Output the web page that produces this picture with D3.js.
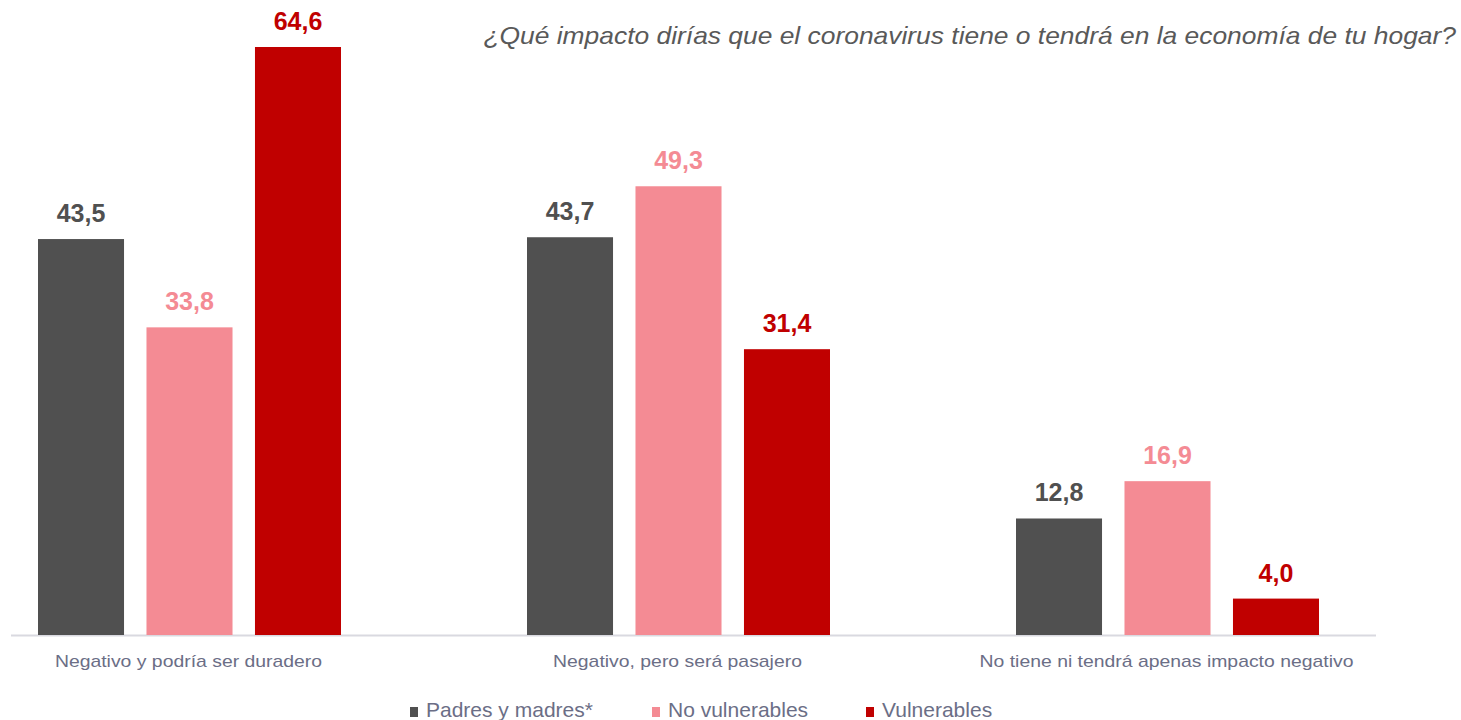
<!DOCTYPE html>
<html><head><meta charset="utf-8">
<script src="https://cdn.jsdelivr.net/npm/d3@7"></script>
<style>body{margin:0;background:#fff}</style>
</head><body>
<svg id="c" width="1461" height="720"></svg>
<script>
const categories = ["Negativo y podría ser duradero", "Negativo, pero será pasajero", "No tiene ni tendrá apenas impacto negativo"];
const seriesNames = ["Padres y madres*", "No vulnerables", "Vulnerables"];
const padres = [43.5, 43.7, 12.8];
const noVulnerables = [33.8, 49.3, 16.9];
const vulnerables = [64.6, 31.4, 4.0];
const colors = ["#505050", "#f48b94", "#c00000"];
const title = "¿Qué impacto dirías que el coronavirus tiene o tendrá en la economía de tu hogar?";

const seriesValues = [padres, noVulnerables, vulnerables];
const svg = d3.select("#c");
const baseY = 635;
const font = "Liberation Sans, Arial, sans-serif";
const y = d3.scaleLinear().domain([0, 64.6]).range([baseY, 47]);
const x0 = d3.scaleBand().domain(categories).range([-55, 1412]).padding(0);
const x1 = d3.scaleBand().domain(seriesNames).range([93, 396]).paddingInner(0.207).paddingOuter(0);

function stretch(sel, factor) {
  sel.each(function () {
    const L = this.getComputedTextLength();
    d3.select(this).attr("textLength", L * factor).attr("lengthAdjust", "spacingAndGlyphs");
  });
}

// axis line
svg.append("line").attr("x1", 11).attr("x2", 1376).attr("y1", baseY + 0.5).attr("y2", baseY + 0.5)
  .attr("stroke", "#d9d9e0").attr("stroke-width", 2);

const g = svg.append("g");
categories.forEach((cat, i) => {
  seriesNames.forEach((s, j) => {
    const v = seriesValues[j][i];
    const bx = x0(cat) + x1(s);
    g.append("rect").attr("x", bx).attr("y", y(v)).attr("width", x1.bandwidth())
      .attr("height", baseY - y(v)).attr("fill", colors[j]);
    g.append("text").attr("x", bx + x1.bandwidth() / 2).attr("y", y(v) - 17)
      .attr("text-anchor", "middle").attr("font-family", font)
      .attr("font-weight", "bold").attr("font-size", 25).attr("fill", colors[j])
      .text(v.toFixed(1).replace(".", ","));
  });
  const t = svg.append("text").attr("x", x0(cat) + x0.bandwidth() / 2 - 1).attr("y", 667)
    .attr("text-anchor", "middle").attr("font-family", font)
    .attr("font-size", 17).attr("fill", "#6b6e86").text(cat);
  stretch(t, 1.14);
});

// title
const tt = svg.append("text").attr("x", 1456).attr("y", 44).attr("text-anchor", "end")
  .attr("font-family", font).attr("font-style", "italic")
  .attr("font-size", 24).attr("fill", "#595959").text(title);
stretch(tt, 972 / 884);

// legend
const legX = [410, 652, 866];
seriesNames.forEach((s, j) => {
  svg.append("rect").attr("x", legX[j]).attr("y", 707).attr("width", 8).attr("height", 10).attr("fill", colors[j]);
  svg.append("text").attr("x", legX[j] + 16).attr("y", 717)
    .attr("font-family", font)
    .attr("font-size", 21).attr("fill", "#6b6e86").text(s);
});
</script>
</body></html>
